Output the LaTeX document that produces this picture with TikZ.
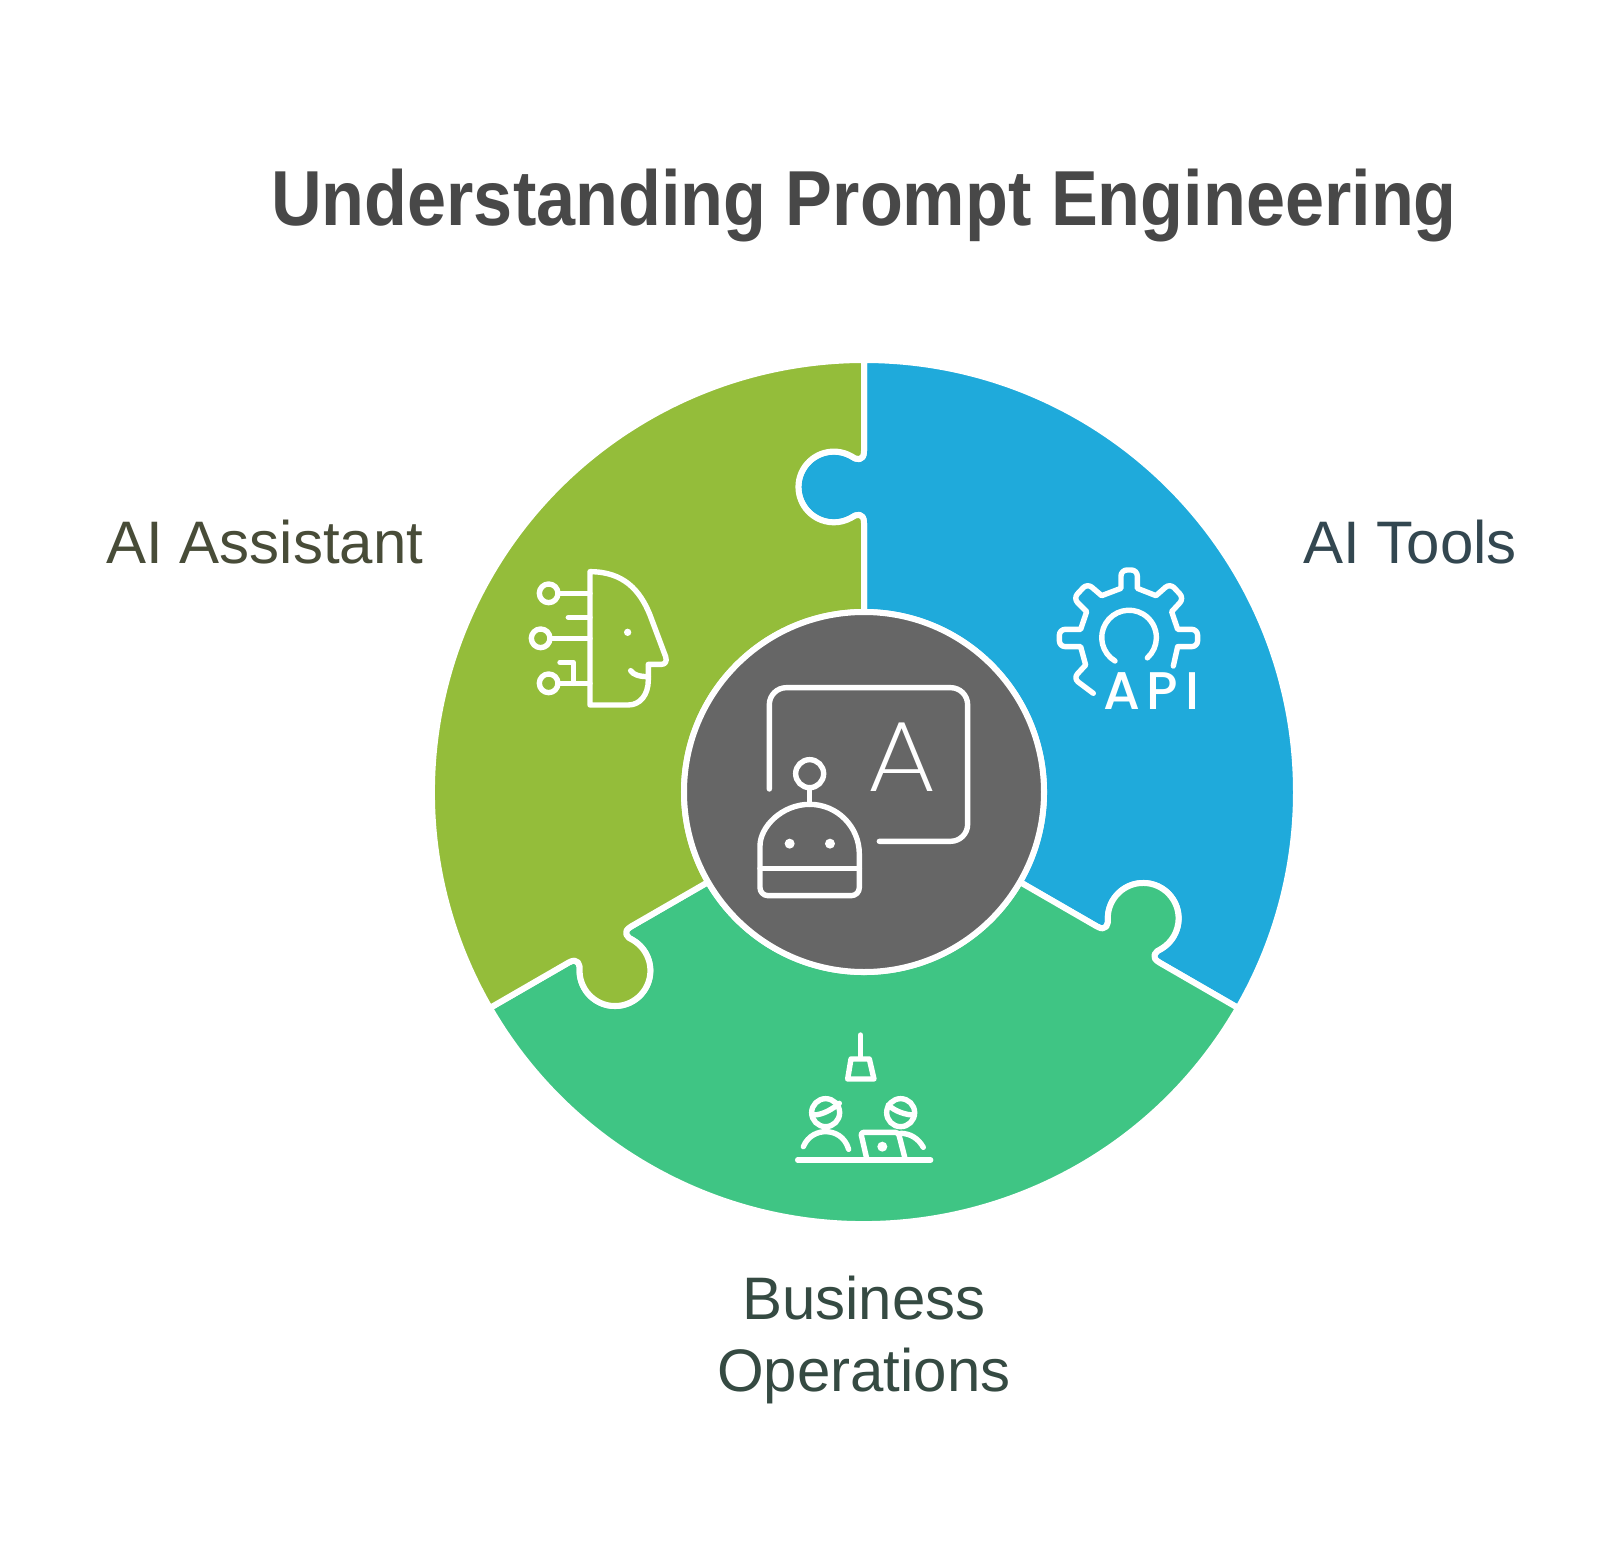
\documentclass[tikz,border=0pt]{standalone}
\usepackage{fontspec}
\setmainfont{Liberation Sans}
\newfontfamily\titlefont[FakeStretch=0.9]{Liberation Sans Bold}
\newfontfamily\iconfont{Poppins Medium}
\newfontfamily\thinfont[FakeStretch=1.1]{Poppins ExtraLight}
\usetikzlibrary{positioning}

\definecolor{olive}{HTML}{94BD3A}
\definecolor{sky}{HTML}{1FAADB}
\definecolor{mint}{HTML}{3FC584}
\definecolor{slate}{HTML}{666666}
\definecolor{titleink}{HTML}{484848}
\definecolor{oliveink}{HTML}{484C38}
\definecolor{skyink}{HTML}{334750}
\definecolor{mintink}{HTML}{354A42}

% One seam of the disc, outer rim to hub and back again
\newcommand{\seamdown}{-- (0,341) .. controls (0,330) and (-8,332) .. (-13,336) arc (61:299:35.4) .. controls (-8,278) and (0,280) .. (0,269) -- (0,180)}
\newcommand{\seamup}{-- (0,269) .. controls (0,280) and (-8,278) .. (-13,274) arc (299:61:35.4) .. controls (-8,332) and (0,330) .. (0,341) -- (0,432)}

\begin{document}
\begin{tikzpicture}[x=1pt, y=1pt,
    piece/.style={draw=white, line width=6pt, line join=round},
    hub/.style={circle, draw=white, fill=slate, line width=6pt, minimum size=360pt, inner sep=0pt},
    caption/.style={font=\fontsize{60}{72}\selectfont, align=center},
    icon/.style={draw=white, line width=5.4pt, line cap=round, line join=round},
    dot/.style={fill=white}]
    \useasboundingbox (-864,-756) rectangle (757,792);
    \fill [white] (-864,-756) rectangle (757,792);

    % Pieces
    \path [piece, fill=sky]             (0,432) arc (90:-30:432) {[rotate=-120] \seamdown} arc (-30:90:180) \seamup -- cycle;
    \path [piece, fill=mint, rotate=-120] (0,432) arc (90:-30:432) {[rotate=-120] \seamdown} arc (-30:90:180) \seamup -- cycle;
    \path [piece, fill=olive, rotate=120] (0,432) arc (90:-30:432) {[rotate=-120] \seamdown} arc (-30:90:180) \seamup -- cycle;

    % Nodes
    \node [hub] (hub) at (0,0) {};
    \node [anchor=base, font=\titlefont\fontsize{78}{90}\selectfont, text=titleink] (title) at (0,566) {Understanding Prompt Engineering};
    \node [caption, text=oliveink] (assistant) at (-599,250) {AI Assistant};
    \node [caption, text=skyink] (tools) at (546,250) {AI Tools};
    \node [caption, text=mintink] (operations) at (0,-548) {Business\\Operations};

    % Head icon
    \begin{scope}[shift={(-364,252)}, x=0.3333pt, y=-0.3333pt]
        \draw [icon] (270,95) .. controls (370,95) and (420,150) .. (450,225) -- (497,350) .. controls (502,365) and (495,373) .. (485,373) -- (445,373) -- (445,420) .. controls (445,465) and (420,495) .. (385,495) -- (270,495) -- cycle;
        \draw [icon] (392,392) .. controls (400,405) and (420,410) .. (445,410);
        \fill [dot] (383,277) circle (11);
        \draw [icon] (146,160) circle (28) (122,295) circle (28) (146,430) circle (28);
        \draw [icon] (175,160) -- (270,160) (205,232) -- (270,232) (150,295) -- (270,295) (175,430) -- (270,430);
        \draw [icon] (180,367) -- (220,367) -- (220,430);
    \end{scope}

    % Gear icon
    \begin{scope}[shift={(176,242)}, x=0.3333pt, y=-0.3333pt]
        \draw [icon] (160,430) [rounded corners=6pt] -- (100,385) [sharp corners] -- (137,345) -- (122,290) [rounded corners=6pt] -- (58,290) -- (58,238) [sharp corners] -- (122,238) -- (140,185) [rounded corners=6pt] -- (100,145) -- (142,100) [sharp corners] -- (185,137) -- (243,115) [rounded corners=6pt] -- (243,60) -- (292,60) [sharp corners] -- (292,115) -- (348,137) [rounded corners=6pt] -- (390,100) -- (432,145) [sharp corners] -- (395,185) -- (413,238) [rounded corners=6pt] -- (473,238) -- (473,290) [sharp corners] -- (413,290) -- (400,348);
        \draw [icon] (225,333) arc (121:408:82);
        \node [text=white, font=\iconfont\fontsize{53}{53}\selectfont, inner sep=0pt] (api) at (335,422) {A\hspace{6pt}P\hspace{7pt}I};
    \end{scope}

    % People icon
    \begin{scope}[shift={(-94,-228)}, x=0.3333pt, y=-0.3333pt]
        \draw [icon] (272,45) -- (272,115);
        \draw [icon] (243,117) -- (298,117) -- (312,177) -- (233,177) -- cycle;
        \draw [icon] (167,278) circle (42) (392,278) circle (42);
        \draw [icon] (130,285) .. controls (160,285) and (190,265) .. (208,250);
        \draw [icon] (355,255) .. controls (375,275) and (410,285) .. (430,285);
        \draw [icon] (100,380) .. controls (115,345) and (145,335) .. (167,335) .. controls (195,335) and (225,350) .. (236,388);
        \draw [icon] (83,420) -- (482,420);
        \draw [icon, rounded corners=3pt] (290,415) -- (272,337) -- (385,337) -- (405,415);
        \draw [icon] (392,340) .. controls (420,340) and (445,355) .. (460,382);
        \fill [dot] (337,380) circle (15);
    \end{scope}

    % Robot and board icon
    \begin{scope}[shift={(-124,122)}, x=0.3333pt, y=-0.3333pt]
        \draw [icon, rounded corners=17pt] (88,357) -- (88,53) -- (683,53) -- (683,514) -- (418,514);
        \node [text=white, font=\thinfont\fontsize{100}{100}\selectfont, inner sep=0pt] (letter) at (485,262) {A};
        \draw [icon] (209,311) circle (42);
        \draw [icon] (209,353) -- (209,403);
        \draw [icon] (60,552) arc (180:360:149) [rounded corners=8pt] -- (358,677) -- (60,677) -- cycle;
        \draw [icon] (60,595) -- (358,595);
        \fill [dot] (149,521) circle (15) (270,521) circle (15);
    \end{scope}
\end{tikzpicture}
\end{document}
